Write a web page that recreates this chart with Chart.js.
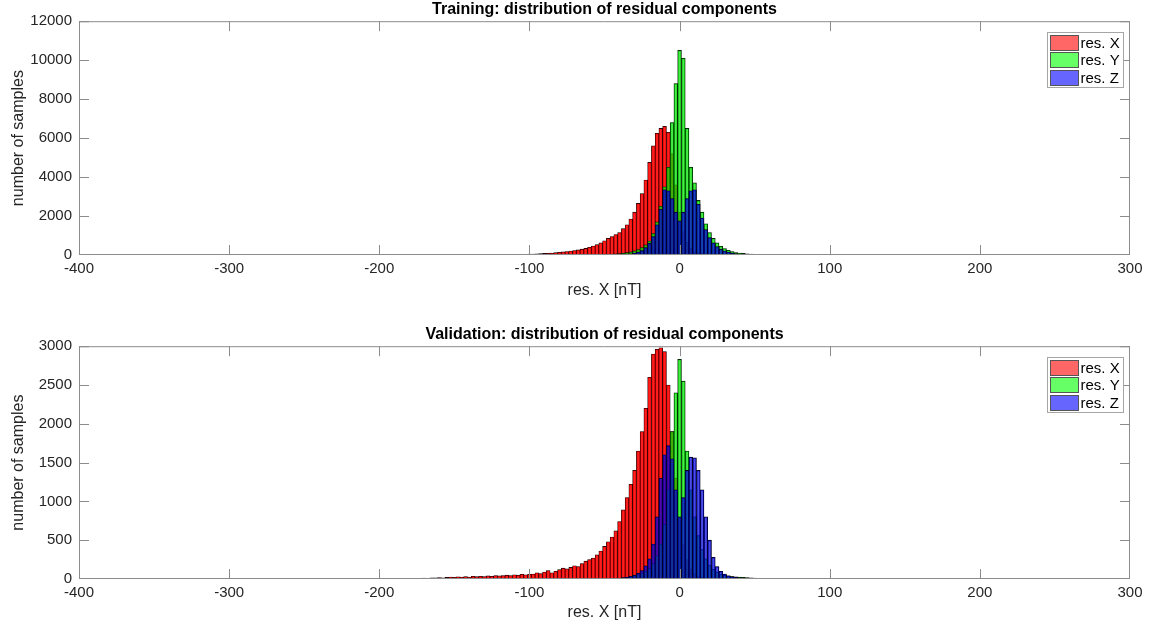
<!DOCTYPE html>
<html>
<head>
<meta charset="utf-8">
<script src="https://cdn.jsdelivr.net/npm/chart.js@4"></script>
<style>
  body { margin: 0; background: #fff; }
  canvas { display: block; }
</style>
</head>
<body>
<canvas id="trainChart" width="1153" height="313"></canvas>
<canvas id="valChart" width="1153" height="313"></canvas>
<script>
// histogram bins are 2.5 nT wide; each series lists its counts from its first bin centre
const binWidth = 2.5;
const seriesLabels = ['res. X', 'res. Y', 'res. Z'];

// Training
const trainXStart = -145;
const trainX = [
  0, 0, 30, 0, 0, 25, 30, 0, 0, 0,
  25, 30, 0, 0, 30, 35, 25, 40, 45, 50,
  60, 70, 80, 90, 100, 120, 140, 160, 180, 200,
  230, 260, 300, 340, 400, 460, 530, 620, 730, 850,
  950, 1050, 1150, 1350, 1550, 1850, 2200, 2650, 3150, 3850,
  4750, 5600, 6250, 6500, 6600, 6300, 5200, 3600, 2200, 1200,
  650, 350, 200, 120, 70, 40, 25, 15, 10
];
const trainYStart = -50;
const trainY = [
  20, 30, 40, 55, 70, 90, 120, 160, 210, 280,
  380, 520, 720, 1100, 1700, 2500, 3500, 4500, 6800, 8800,
  10500, 10100, 6500, 4500, 3700, 2800, 2200, 1600, 1150, 850,
  620, 450, 330, 240, 180, 130, 100, 80, 65, 50,
  40, 30, 20
];
const trainZStart = -40;
const trainZ = [
  20, 30, 45, 65, 100, 150, 230, 380, 600, 950,
  1550, 2350, 3350, 3300, 2900, 2200, 1750, 2200, 2900, 3300,
  3350, 2600, 1900, 1300, 900, 620, 430, 300, 210, 150,
  100, 70, 50, 35, 25, 15, 10
];

// Validation
const valXStart = -190;
const valX = [
  8, 0, 0, 0, 0, 0, 10, 0, 12, 10,
  14, 15, 18, 15, 20, 25, 22, 28, 25, 30,
  25, 35, 30, 35, 32, 40, 35, 45, 40, 45,
  50, 45, 55, 50, 60, 55, 60, 65, 80, 70,
  90, 110, 80, 100, 120, 140, 130, 150, 170, 160,
  200, 230, 250, 270, 310, 360, 420, 480, 540, 620,
  740, 890, 1050, 1220, 1400, 1650, 1900, 2200, 2600, 2900,
  2960, 2980, 2930, 2500, 1900, 1300, 800, 450, 250, 130,
  70, 40, 20, 10
];
const valYStart = -40;
const valY = [
  10, 15, 20, 30, 40, 55, 75, 100, 140, 200,
  300, 450, 700, 1150, 1900, 2400, 2830, 2550, 1650, 1150,
  800, 560, 380, 260, 180, 125, 90, 65, 50, 40,
  32, 28, 24, 20, 18, 15, 12, 10, 8, 6,
  5
];
const valZStart = -45;
const valZ = [
  5, 8, 12, 18, 25, 35, 50, 75, 110, 170,
  260, 450, 800, 1300, 1600, 1720, 1550, 1150, 800, 1050,
  1400, 1570, 1560, 1400, 1150, 800, 500, 280, 160, 100,
  65, 42, 30, 22, 15, 10, 7, 5, 3
];

const barColors = ['rgba(255,0,0,0.88)', 'rgba(0,230,0,0.72)', 'rgba(0,0,220,0.7)'];
const legendColors = ['#ff6666', '#66ff66', '#6666ff'];
const axisGrey = '#8c8c8c';
const textColor = '#262626';
const fontFamily = '"Liberation Sans", Arial, Helvetica, sans-serif';

function toPoints(start, counts) {
  return counts.map((c, i) => ({ x: start + i * binWidth, y: c }));
}

// MATLAB-like box, inward ticks and legend inside the axes
const matlabAxes = {
  id: 'matlabAxes',
  afterDatasetsDraw(chart) {
    const { ctx, chartArea: a, scales } = chart;
    ctx.save();
    ctx.strokeStyle = axisGrey;
    ctx.lineWidth = 1;
    ctx.beginPath();
    ctx.rect(a.left + 0.5, a.top + 0.5, a.right - a.left - 1, a.bottom - a.top - 1);
    const len = 10;
    scales.x.ticks.forEach(t => {
      let px = Math.round(scales.x.getPixelForValue(t.value)) + 0.5;
      px = Math.min(Math.max(px, a.left + 0.5), a.right - 0.5);
      ctx.moveTo(px, a.bottom); ctx.lineTo(px, a.bottom - len);
      ctx.moveTo(px, a.top); ctx.lineTo(px, a.top + len);
    });
    scales.y.ticks.forEach(t => {
      let py = Math.round(scales.y.getPixelForValue(t.value)) + 0.5;
      py = Math.min(Math.max(py, a.top + 0.5), a.bottom - 0.5);
      ctx.moveTo(a.left, py); ctx.lineTo(a.left + len, py);
      ctx.moveTo(a.right, py); ctx.lineTo(a.right - len, py);
    });
    ctx.stroke();
    ctx.restore();
  },
  afterDraw(chart) {
    const { ctx, chartArea: a } = chart;
    const w = 76, h = 55;
    const left = Math.round(a.right - 7 - w) + 0.5;
    const top = Math.round(a.top + 11) + 0.5;
    ctx.save();
    ctx.fillStyle = '#fff';
    ctx.strokeStyle = '#a6a6a6';
    ctx.lineWidth = 1;
    ctx.fillRect(left, top, w, h);
    ctx.strokeRect(left, top, w, h);
    ctx.font = '15px ' + fontFamily;
    ctx.textBaseline = 'middle';
    ctx.textAlign = 'left';
    chart.data.datasets.forEach((ds, i) => {
      const y = Math.round(top + 2 + i * 17.7) + 0.5;
      ctx.fillStyle = legendColors[i];
      ctx.fillRect(left + 3, y, 28, 15);
      ctx.strokeStyle = '#555';
      ctx.strokeRect(left + 3, y, 28, 15);
      ctx.fillStyle = '#000';
      ctx.fillText(ds.label, left + 33, y + 8);
    });
    ctx.restore();
  }
};

function makeChart(id, title, series, yMax, yStep, titlePad, xHeight, xTitlePad) {
  return new Chart(document.getElementById(id), {
    type: 'bar',
    data: {
      datasets: series.map((s, i) => ({
        label: seriesLabels[i],
        data: toPoints(s[0], s[1]),
        backgroundColor: barColors[i],
        borderColor: '#000',
        borderWidth: 0.6,
        barPercentage: 1,
        categoryPercentage: 1,
        grouped: false,
        order: 3 - i
      }))
    },
    options: {
      responsive: false,
      animation: false,
      layout: { padding: { left: 0, right: 23, top: 0, bottom: 0 } },
      plugins: {
        legend: { display: false },
        tooltip: { enabled: false },
        title: {
          display: true,
          text: title,
          fullSize: false,
          color: '#000',
          font: { family: fontFamily, size: 16, weight: 'bold' },
          padding: { top: titlePad, bottom: 2 }
        }
      },
      scales: {
        x: {
          type: 'linear',
          min: -400,
          max: 300,
          offset: false,
          grid: { display: false, drawTicks: false, offset: false },
          border: { display: false },
          ticks: { stepSize: 100, padding: 5, color: textColor, font: { family: fontFamily, size: 15 } },
          title: {
            display: true,
            text: 'res. X [nT]',
            color: textColor,
            font: { family: fontFamily, size: 16 },
            padding: { top: 0, bottom: xTitlePad }
          },
          afterFit(s) { s.height = xHeight; }
        },
        y: {
          min: 0,
          max: yMax,
          grid: { display: false, drawTicks: false },
          border: { display: false },
          ticks: {
            stepSize: yStep,
            padding: 7,
            color: textColor,
            font: { family: fontFamily, size: 15 },
            callback: v => String(v)
          },
          title: {
            display: true,
            text: 'number of samples',
            color: textColor,
            font: { family: fontFamily, size: 16 },
            padding: { top: 9, bottom: 0 }
          },
          afterFit(s) { s.width = 79; }
        }
      }
    },
    plugins: [matlabAxes]
  });
}

makeChart('trainChart', 'Training: distribution of residual components',
  [[trainXStart, trainX], [trainYStart, trainY], [trainZStart, trainZ]], 12000, 2000, 0, 58, 13);
makeChart('valChart', 'Validation: distribution of residual components',
  [[valXStart, valX], [valYStart, valY], [valZStart, valZ]], 3000, 500, 12, 47, 4);
</script>
</body>
</html>
